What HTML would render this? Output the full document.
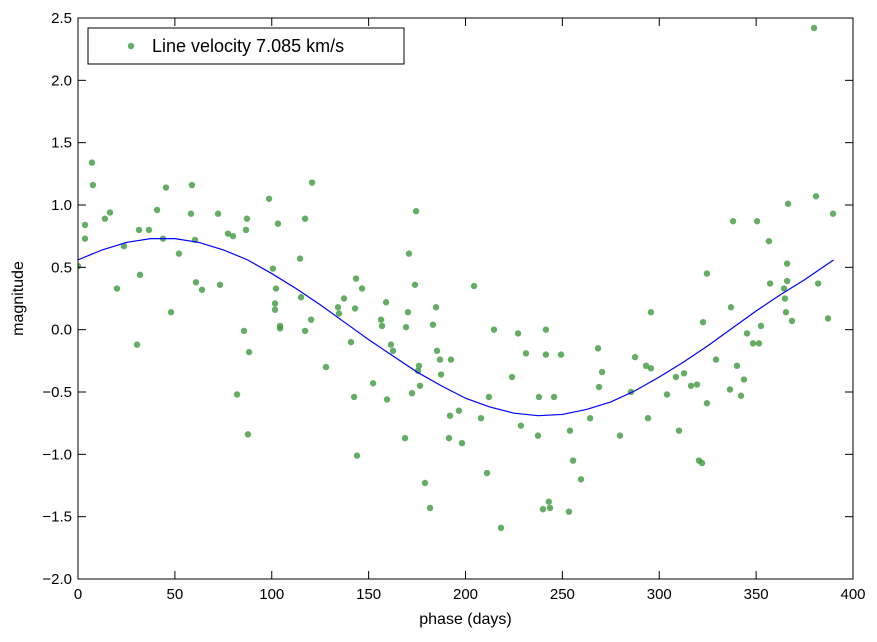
<!DOCTYPE html>
<html><head><meta charset="utf-8"><style>
body{margin:0;background:#fff;}
svg text{font-family:"Liberation Sans",sans-serif;}
</style></head><body>
<svg id="chart" width="877" height="637" xmlns="http://www.w3.org/2000/svg">
<rect width="877" height="637" fill="#fff"/>
<g id="marks"></g>
<g id="axes"></g>
</svg>
<script>
const xTicks=[0,50,100,150,200,250,300,350,400];
const yTicks=[-2.0,-1.5,-1.0,-0.5,0.0,0.5,1.0,1.5,2.0,2.5];
const obsPhase=[0,3.6,3.6,7.2,7.7,13.9,16.5,20.1,23.7,30.5,31.5,32,36.6,40.8,43.9,45.4,48,52.1,58.3,58.8,60.4,60.9,64,72.3,73.3,77.4,80,82.1,85.7,86.7,87.2,88.3,87.7,98.6,100.6,101.7,101.7,102.2,103.2,104.3,104.3,114.6,115.1,117.2,117.2,120.3,120.8,128,134.2,134.7,137.3,140.9,142.5,143,143.5,144,146.6,152.3,156.4,156.9,159,159.5,161.5,162.6,168.8,169.3,170.3,170.8,172.4,173.9,174.5,175.5,176,176.5,179.1,181.7,183.2,184.8,185.3,186.8,187.4,191.5,192,192.5,196.6,198.2,204.4,208,211.1,212.1,214.7,218.3,224,227.1,228.6,231.2,237.4,237.9,240,241.5,241.5,243,243.6,245.7,249.3,253.4,253.9,255.5,259.6,264.3,268.4,268.9,270.5,279.7,285.4,287.5,293.2,294.2,295.7,295.7,304,308.6,310.2,312.8,316.4,319.5,320.5,322.1,322.6,324.6,324.6,329.3,336.5,337,338.1,340.1,342.2,343.7,345.3,348.4,350.5,351.5,352.5,356.6,357.2,364.4,364.9,365.4,366,366,366.5,368.5,379.9,380.9,382,387.1,389.7];
const obsMag=[0.51,0.84,0.73,1.34,1.16,0.89,0.94,0.33,0.67,-0.12,0.80,0.44,0.80,0.96,0.73,1.14,0.14,0.61,0.93,1.16,0.72,0.38,0.32,0.93,0.36,0.77,0.75,-0.52,-0.01,0.80,0.89,-0.18,-0.84,1.05,0.49,0.21,0.16,0.33,0.85,0.03,0.01,0.57,0.26,0.89,-0.01,0.08,1.18,-0.30,0.18,0.13,0.25,-0.10,-0.54,0.17,0.41,-1.01,0.33,-0.43,0.08,0.03,0.22,-0.56,-0.12,-0.17,-0.87,0.02,0.14,0.61,-0.51,0.36,0.95,-0.33,-0.29,-0.45,-1.23,-1.43,0.04,0.18,-0.17,-0.24,-0.36,-0.87,-0.69,-0.24,-0.65,-0.91,0.35,-0.71,-1.15,-0.54,0.00,-1.59,-0.38,-0.03,-0.77,-0.19,-0.85,-0.54,-1.44,0.00,-0.20,-1.38,-1.43,-0.54,-0.20,-1.46,-0.81,-1.05,-1.20,-0.71,-0.15,-0.46,-0.34,-0.85,-0.50,-0.22,-0.29,-0.71,-0.31,0.14,-0.52,-0.38,-0.81,-0.35,-0.45,-0.44,-1.05,-1.07,0.06,-0.59,0.45,-0.24,-0.48,0.18,0.87,-0.29,-0.53,-0.40,-0.03,-0.11,0.87,-0.11,0.03,0.71,0.37,0.33,0.25,0.14,0.39,0.53,1.01,0.07,2.42,1.07,0.37,0.09,0.93];
const fitPhase=[0,12.5,25,37.5,50,62.5,75,87.5,100,112.5,125,137.5,150,162.5,175,187.5,200,212.5,225,237.5,250,262.5,275,287.5,300,312.5,325,337.5,350,362.5,375,390];
const fitMag=[0.56,0.64,0.70,0.73,0.73,0.70,0.64,0.56,0.45,0.33,0.20,0.06,-0.08,-0.21,-0.34,-0.45,-0.55,-0.62,-0.67,-0.69,-0.68,-0.64,-0.58,-0.49,-0.38,-0.26,-0.13,0.01,0.15,0.28,0.40,0.56];

const NS="http://www.w3.org/2000/svg";
const L=78,R=853,T=18,B=579;
const sx=v=>L+(v-0)/(400-0)*(R-L);
const sy=v=>B-(v-(-2))/(2.5-(-2))*(B-T);
function mk(tag,attrs,parent){const e=document.createElementNS(NS,tag);for(const k in attrs)e.setAttribute(k,attrs[k]);parent.appendChild(e);return e;}
const marks=document.getElementById('marks');
const axes=document.getElementById('axes');
const clip=mk('clipPath',{id:'pc'},marks);mk('rect',{x:L,y:T,width:R-L,height:B-T},clip);
const g=mk('g',{'clip-path':'url(#pc)'},marks);
obsPhase.forEach((p,i)=>{
  const c=mk('circle',{cx:sx(p),cy:sy(obsMag[i]),r:3.2,fill:'#3f983f','fill-opacity':0.8},g);
  
  
});
const line=mk('polyline',{points:fitPhase.map((p,i)=>sx(p)+','+sy(fitMag[i])).join(' '),fill:'none',stroke:'#0000ff','stroke-width':1.2},g);


const frame=mk('rect',{x:L,y:T,width:R-L,height:B-T,fill:'none',stroke:'#000','stroke-width':1},axes);


xTicks.forEach(v=>{
  const x=sx(v);
  mk('line',{x1:x,y1:B,x2:x,y2:B-8,stroke:'#000'},axes);
  mk('line',{x1:x,y1:T,x2:x,y2:T+8,stroke:'#000'},axes);
  const t=mk('text',{x:x,y:B+20,'text-anchor':'middle','font-size':15},axes);t.textContent=String(v);
  
  
});
yTicks.forEach(v=>{
  const y=sy(v);
  mk('line',{x1:L,y1:y,x2:L+8,y2:y,stroke:'#000'},axes);
  mk('line',{x1:R,y1:y,x2:R-8,y2:y,stroke:'#000'},axes);
  const t=mk('text',{x:L-6,y:y+5,'text-anchor':'end','font-size':15},axes);t.textContent=v.toFixed(1).replace('-','\u2212');
  
  
});
const xl=mk('text',{x:(L+R)/2,y:624,'text-anchor':'middle','font-size':16},axes);xl.textContent='phase (days)';


const yl=mk('text',{x:23,y:(T+B)/2,'text-anchor':'middle','font-size':16,transform:'rotate(-90 23 '+((T+B)/2)+')'},axes);yl.textContent='magnitude';


const lg=mk('g',{},axes);


mk('rect',{x:88,y:28,width:316,height:36,fill:'#fff',stroke:'#000'},lg);
mk('circle',{cx:131,cy:46,r:3.2,fill:'#3f983f','fill-opacity':0.8},lg);
const lt=mk('text',{x:152,y:52,'font-size':18},lg);lt.textContent='Line velocity 7.085 km/s';


</script>
</body></html>
